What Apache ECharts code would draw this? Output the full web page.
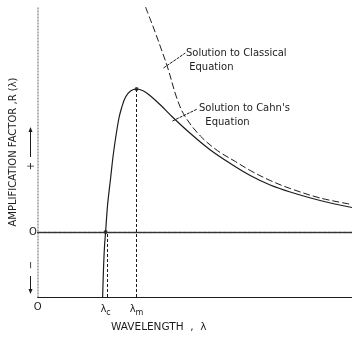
<!DOCTYPE html>
<html>
<head>
<meta charset="utf-8">
<script src="https://cdn.jsdelivr.net/npm/echarts@6/dist/echarts.min.js"></script>
<style>
  html, body { margin: 0; padding: 0; background: #fff; }
  #chart { width: 352px; height: 338px; }
</style>
</head>
<body>
<div id="chart"></div>
<script>
// wavelength in units of lambda_c, amplification factor in arbitrary units
const cahnLambda = [0.956, 0.971, 0.985, 1.0, 1.029, 1.074, 1.118, 1.191, 1.235, 1.294, 1.368, 1.456,
  1.559, 1.662, 1.809, 1.985, 2.25, 2.544, 2.838, 3.132, 3.426, 3.721, 4.162, 4.632];
const cahnR = [-1.3, -0.66, -0.26, 0, 0.54, 1.08, 1.6, 2.24, 2.48, 2.7, 2.82, 2.86,
  2.82, 2.72, 2.54, 2.3, 1.97, 1.64, 1.37, 1.13, 0.94, 0.8, 0.63, 0.49];

const classicalLambda = [1.588, 1.662, 1.735, 1.809, 1.912, 2.059, 2.176, 2.397, 2.647, 2.912,
  3.132, 3.426, 3.721, 4.162, 4.632];
const classicalR = [4.5, 4.24, 3.98, 3.7, 3.3, 2.64, 2.3, 1.92, 1.63, 1.41,
  1.23, 1.03, 0.87, 0.68, 0.55];

const lambdaC = 1.0;
const lambdaM = 1.456;
const peakR = 2.86;
const xTicks = [0, lambdaC, lambdaM];
const xTickLabels = ['O', '{l|λ}{s|c}', '{l|λ}{s|m}'];

const xMin = 0, xMax = 4.632;
const yMin = -1.3, yMax = 4.5;

const ink = '#1c1c1c';
const font = 'DejaVu Sans';

const chart = echarts.init(document.getElementById('chart'));

const zip = (xs, ys) => xs.map((x, i) => [x, ys[i]]);

const option = {
  animation: false,
  backgroundColor: '#fff',
  textStyle: { fontFamily: font, color: ink },
  grid: { left: 37, top: 7, right: 0, bottom: 41 },
  xAxis: [
    {
      type: 'value', min: xMin, max: xMax,
      axisLine: { onZero: false, lineStyle: { color: ink, width: 1 } },
      axisTick: { show: false },
      splitLine: { show: false },
      axisLabel: {
        customValues: xTicks,
        margin: 5,
        color: ink,
        fontSize: 10,
        formatter: (v) => xTickLabels[xTicks.indexOf(v)],
        rich: {
          l: { fontSize: 10, fontFamily: font, color: ink },
          s: { fontSize: 8, fontFamily: font, color: ink, padding: [7, 0, 0, 0] }
        }
      }
    },
    {
      type: 'value', position: 'top', min: xMin, max: xMax,
      axisLine: { show: true, lineStyle: { color: '#333', width: 1.3, type: [4, 1] } },
      axisTick: { show: false }, axisLabel: { show: false }, splitLine: { show: false }
    }
  ],
  yAxis: {
    type: 'value', min: yMin, max: yMax,
    axisLine: { show: true, onZero: false, lineStyle: { color: '#999', width: 1.5, type: [1, 2] } },
    axisTick: { show: false },
    splitLine: { show: false },
    axisLabel: { customValues: [0], formatter: () => 'O', margin: 1, fontSize: 10, color: ink },
    name: 'AMPLIFICATION FACTOR ,R (λ)',
    nameLocation: 'middle',
    nameGap: 14,
    nameRotate: 90,
    nameTextStyle: { fontSize: 10, color: ink, fontFamily: font }
  },
  series: [
    {
      name: 'Cahn',
      type: 'line',
      data: zip(cahnLambda, cahnR),
      smooth: 0.35,
      showSymbol: false,
      lineStyle: { color: ink, width: 1.2 },
      markLine: {
        silent: true,
        symbol: 'none',
        label: { show: false },
        data: [
          [{ coord: [xMin, 0], lineStyle: { color: '#333', width: 1.2, type: 'solid' } }, { coord: [xMax, 0] }],
          [{ coord: [lambdaC + 0.02, yMin], lineStyle: { color: ink, width: 1, type: [3, 2] } }, { coord: [lambdaC + 0.02, 0] }],
          [{ coord: [lambdaM, yMin], lineStyle: { color: ink, width: 1, type: [3, 2] } }, { coord: [lambdaM, peakR] }],
          [{ coord: [1.853, 3.28], lineStyle: { color: ink, width: 1, type: [3, 1] } }, { coord: [2.176, 3.58] }],
          [{ coord: [1.985, 2.22], lineStyle: { color: ink, width: 1, type: [3, 1] } }, { coord: [2.353, 2.46] }]
        ]
      }
    },
    {
      name: 'Classical',
      type: 'line',
      data: zip(classicalLambda, classicalR),
      smooth: 0.35,
      showSymbol: false,
      lineStyle: { color: ink, width: 1, type: [7, 3] }
    },
    {
      type: 'scatter',
      data: [[lambdaC, 0], [lambdaM, peakR]],
      symbolSize: 4,
      itemStyle: { color: ink }
    }
  ],
  graphic: [
    {
      type: 'text', left: 186, top: 46,
      style: { text: 'Solution to Classical\n Equation', font: '10px ' + font, fill: ink, lineHeight: 14 }
    },
    {
      type: 'text', left: 199, top: 101,
      style: { text: "Solution to Cahn's\n  Equation", font: '10px ' + font, fill: ink, lineHeight: 14 }
    },
    {
      type: 'text', left: 111, top: 322,
      style: { text: 'WAVELENGTH  ,  λ', font: '10.5px ' + font, fill: ink }
    },
    // "+" and up arrow, "-" and down arrow, rotated like the axis title
    { type: 'text', x: 31, y: 166, rotation: Math.PI / 2, style: { text: '+', font: '10px ' + font, fill: ink, align: 'center', verticalAlign: 'middle' } },
    { type: 'line', shape: { x1: 30.5, y1: 157, x2: 30.5, y2: 130 }, style: { stroke: ink, lineWidth: 1 } },
    { type: 'polygon', shape: { points: [[30.5, 127], [28.5, 132], [32.5, 132]] }, style: { fill: ink } },
    { type: 'text', x: 31, y: 265, rotation: Math.PI / 2, style: { text: '−', font: '10px ' + font, fill: ink, align: 'center', verticalAlign: 'middle' } },
    { type: 'line', shape: { x1: 30.5, y1: 276, x2: 30.5, y2: 291 }, style: { stroke: ink, lineWidth: 1 } },
    { type: 'polygon', shape: { points: [[30.5, 294], [28.5, 289], [32.5, 289]] }, style: { fill: ink } }
  ]
};

chart.setOption(option);
</script>
</body>
</html>
